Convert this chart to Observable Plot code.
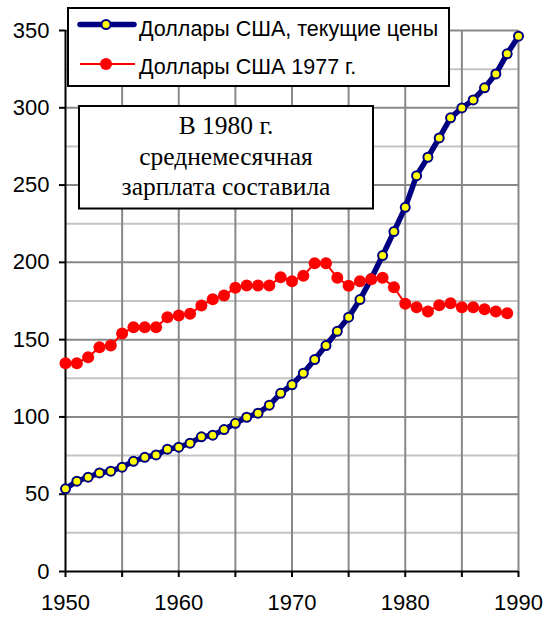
<!DOCTYPE html>
<html>
<head>
<meta charset="utf-8">
<script src="https://cdn.jsdelivr.net/npm/d3@7"></script>
<script src="https://cdn.jsdelivr.net/npm/@observablehq/plot@0.6"></script>
<style>
  html, body { margin: 0; padding: 0; background: #fff; }
  #chart { position: relative; width: 547px; height: 617px; }
</style>
</head>
<body>
<div id="chart"></div>
<script>
// ---- data ----
const yearsNominal = d3.range(1950, 1991);
const nominalUSD = [
  53.5, 58.4, 61.0, 63.8, 64.9, 67.5, 71.3, 73.9, 75.4, 79.1,
  80.4, 83.0, 87.1, 88.2, 91.8, 95.9, 99.8, 102.4, 107.6, 115.3,
  120.8, 128.3, 137.1, 146.2, 155.4, 164.5, 175.9, 189.5, 204.4, 219.9,
  235.6, 256.1, 268.0, 280.5, 293.5, 299.9, 305.1, 312.9, 321.9, 334.9,
  346.3
];
const yearsReal = d3.range(1950, 1990);
const realUSD1977 = [
  134.8, 134.8, 138.6, 145.1, 146.2, 153.9, 158.0, 158.0, 158.0, 164.5,
  165.6, 166.7, 172.1, 176.1, 178.5, 183.5, 185.0, 185.0, 185.0, 190.4,
  187.8, 191.3, 199.4, 199.4, 190.0, 184.8, 187.8, 189.1, 190.0, 183.9,
  173.2, 171.0, 168.2, 172.3, 173.5, 171.0, 171.0, 169.7, 168.2, 167.1
];
const xTicks = [1950, 1960, 1970, 1980, 1990];
const xGrid = [1955, 1960, 1965, 1970, 1975, 1980, 1985, 1990];
const yTicks = [0, 50, 100, 150, 200, 250, 300, 350];
const yMajorGrid = [50, 100, 150, 200, 250, 300, 350];
const yMinorGrid = [25, 75, 125, 175, 225, 275, 325];
const seriesNames = ["Доллары США, текущие цены", "Доллары США 1977 г."];
const noteLines = ["В 1980 г.", "среднемесячная", "зарплата составила"];

const nominal = yearsNominal.map((year, i) => ({year, value: nominalUSD[i]}));
const real = yearsReal.map((year, i) => ({year, value: realUSD1977[i]}));

const navy = "#000080";
const red = "#ff0000";

const chart = Plot.plot({
  width: 547,
  height: 617,
  marginLeft: 65,
  marginRight: 29,
  marginTop: 30,
  marginBottom: 46,
  style: {fontFamily: "'Liberation Sans', Arial, sans-serif", fontSize: "22px", background: "#fff", color: "#000"},
  x: {domain: [1950, 1990]},
  y: {domain: [0, 350]},
  marks: [
    Plot.ruleY(yMinorGrid, {stroke: "#c4c4c4", strokeWidth: 2}),
    Plot.ruleY(yMajorGrid, {stroke: "#888", strokeWidth: 2}),
    Plot.ruleX(xGrid, {stroke: "#888", strokeWidth: 2}),
    Plot.axisY({ticks: yTicks, tickSize: 6, tickPadding: 10, stroke: "#000", strokeWidth: 2, label: null, fontSize: 22}),
    Plot.axisX({ticks: xTicks, tickSize: 6, tickPadding: 17, tickFormat: d => String(d), stroke: "#000", strokeWidth: 2, label: null, fontSize: 22}),
    Plot.axisX({ticks: xGrid.filter(d => !xTicks.includes(d)), tickSize: 6, tickFormat: () => "", stroke: "#000", strokeWidth: 2, label: null}),
    Plot.ruleX([1950], {stroke: "#000", strokeWidth: 2}),
    Plot.ruleY([0], {stroke: "#000", strokeWidth: 2}),
    Plot.line(nominal, {x: "year", y: "value", stroke: navy, strokeWidth: 5.5}),
    Plot.dot(nominal, {x: "year", y: "value", r: 4.5, fill: "#ffff00", stroke: navy, strokeWidth: 2}),
    Plot.line(real, {x: "year", y: "value", stroke: red, strokeWidth: 2}),
    Plot.dot(real, {x: "year", y: "value", r: 6, fill: red})
  ]
});

document.getElementById("chart").appendChild(chart);

// ---- legend & note (layout overlays) ----
const svg = d3.select(chart);
const lg = svg.append("g").attr("text-anchor", "start");
lg.append("rect").attr("x", 68).attr("y", 8).attr("width", 381).attr("height", 78)
  .attr("fill", "#fff").attr("stroke", "#000").attr("stroke-width", 2);
// row 1
lg.append("line").attr("x1", 80).attr("x2", 134).attr("y1", 24.5).attr("y2", 24.5)
  .attr("stroke", navy).attr("stroke-width", 5.5).attr("stroke-linecap", "round");
lg.append("circle").attr("cx", 106).attr("cy", 24.5).attr("r", 4.5)
  .attr("fill", "#ffff00").attr("stroke", navy).attr("stroke-width", 2);
lg.append("text").attr("x", 139).attr("y", 36).attr("font-size", 21.5).attr("fill", "#000")
  .attr("text-anchor", "start").text(seriesNames[0]);
// row 2
lg.append("line").attr("x1", 80).attr("x2", 135).attr("y1", 64).attr("y2", 64)
  .attr("stroke", red).attr("stroke-width", 2);
lg.append("circle").attr("cx", 106).attr("cy", 64).attr("r", 6).attr("fill", red);
lg.append("text").attr("x", 139).attr("y", 74).attr("font-size", 21.5).attr("fill", "#000")
  .attr("text-anchor", "start").text(seriesNames[1]);

const ng = svg.append("g");
ng.append("rect").attr("x", 79).attr("y", 106).attr("width", 294).attr("height", 102.5)
  .attr("fill", "#fff").attr("stroke", "#000").attr("stroke-width", 2);
noteLines.forEach((t, i) => {
  ng.append("text").attr("x", 226).attr("y", 134 + i * 30.7)
    .attr("text-anchor", "middle")
    .attr("font-family", "'Liberation Serif', 'Times New Roman', serif")
    .attr("font-size", 25.5).attr("fill", "#000")
    .text(t);
});
</script>
</body>
</html>
